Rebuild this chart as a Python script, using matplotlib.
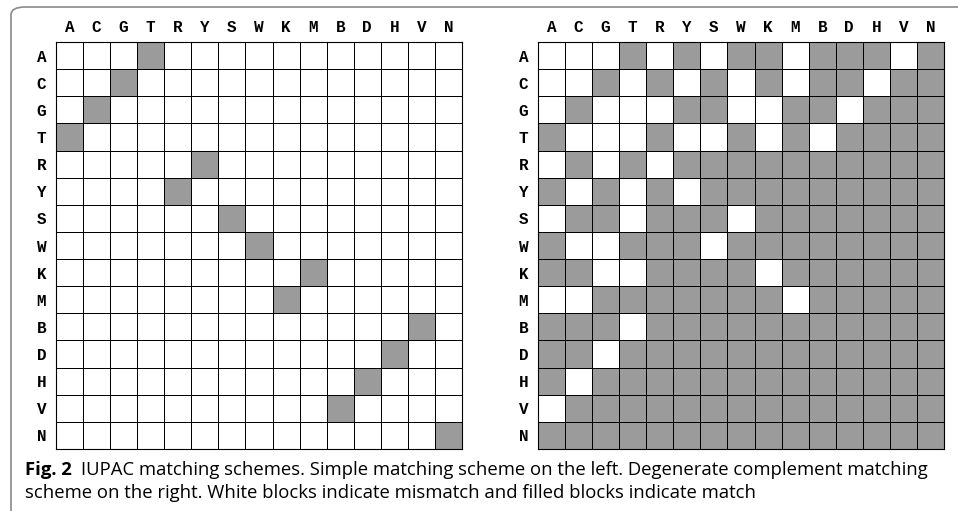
import numpy as np
import matplotlib.pyplot as plt
from matplotlib.patches import FancyBboxPatch
from matplotlib.colors import ListedColormap

codes = ['A', 'C', 'G', 'T', 'R', 'Y', 'S', 'W', 'K', 'M', 'B', 'D', 'H', 'V', 'N']

# simple matching scheme: the one complement code per row
simple_pairs = ['T', 'G', 'C', 'A', 'Y', 'R', 'S', 'W', 'M', 'K', 'V', 'H', 'D', 'B', 'N']

# degenerate complement matching scheme, read row by row (1 = filled)
degenerate_rows = [
    '000101011011101',
    '001010101011011',
    '010001100110111',
    '100010010101111',
    '010101111111111',
    '101010111111111',
    '011011101111111',
    '100111011111111',
    '110011110111111',
    '001111111011111',
    '111011111111111',
    '110111111111111',
    '101111111111111',
    '011111111111111',
    '111111111111111',
]

simple = np.array([[1 if c == p else 0 for c in codes] for p in simple_pairs])
degenerate = np.array([[int(ch) for ch in row] for row in degenerate_rows])

W, H = 958, 511
fig = plt.figure(figsize=(W / 100, H / 100), dpi=100)

# outer frame round the figure panel
frame = FancyBboxPatch((11 / W, -0.2), 1.2, (H - 7) / H + 0.2,
                       boxstyle='round,pad=0,rounding_size=0.015',
                       transform=fig.transFigure, facecolor='none',
                       edgecolor='#8a8a8a', linewidth=1.2, clip_on=False)
fig.patches.append(frame)

cmap = ListedColormap(['white', '#9b9b9b'])
label_font = dict(family=['Liberation Mono', 'DejaVu Sans Mono'],
                  weight='bold', size=11.5)


def draw_grid(left_px, matrix, ypad):
    ax = fig.add_axes([left_px / W, (H - 449) / H, 406 / W, 407 / H])
    n = len(codes)
    ax.pcolormesh(np.arange(n + 1), np.arange(n + 1), matrix, cmap=cmap,
                  vmin=0, vmax=1, edgecolors='black', linewidth=0.7)
    ax.set_xlim(0, n)
    ax.set_ylim(n, 0)
    ax.set_xticks(np.arange(n) + 0.5)
    ax.set_yticks(np.arange(n) + 0.5)
    ax.set_xticklabels(codes, **label_font)
    ax.set_yticklabels(codes, **label_font)
    ax.xaxis.tick_top()
    ax.tick_params(axis='x', length=0, pad=5)
    ax.tick_params(axis='y', length=0, pad=7)
    for s in ax.spines.values():
        s.set_linewidth(0.8)
    return ax


draw_grid(56, simple, 8)
draw_grid(538, degenerate, 7)

cap_font = ['Open Sans', 'Liberation Sans', 'DejaVu Sans']
cap_size = 13.3
t1 = fig.text(25 / W, 1 - 470 / H, 'Fig. 2', family=cap_font, weight='bold',
              size=cap_size, va='center', ha='left')
fig.canvas.draw()
bb = t1.get_window_extent()
fig.text((bb.x1 + 9) / W, 1 - 470 / H,
         'IUPAC matching schemes. Simple matching scheme on the left. '
         'Degenerate complement matching',
         family=cap_font, size=cap_size, va='center', ha='left')
fig.text(25 / W, 1 - 493 / H,
         'scheme on the right. White blocks indicate mismatch and filled '
         'blocks indicate match',
         family=cap_font, size=cap_size, va='center', ha='left')

fig.savefig('out.png', dpi=100)
